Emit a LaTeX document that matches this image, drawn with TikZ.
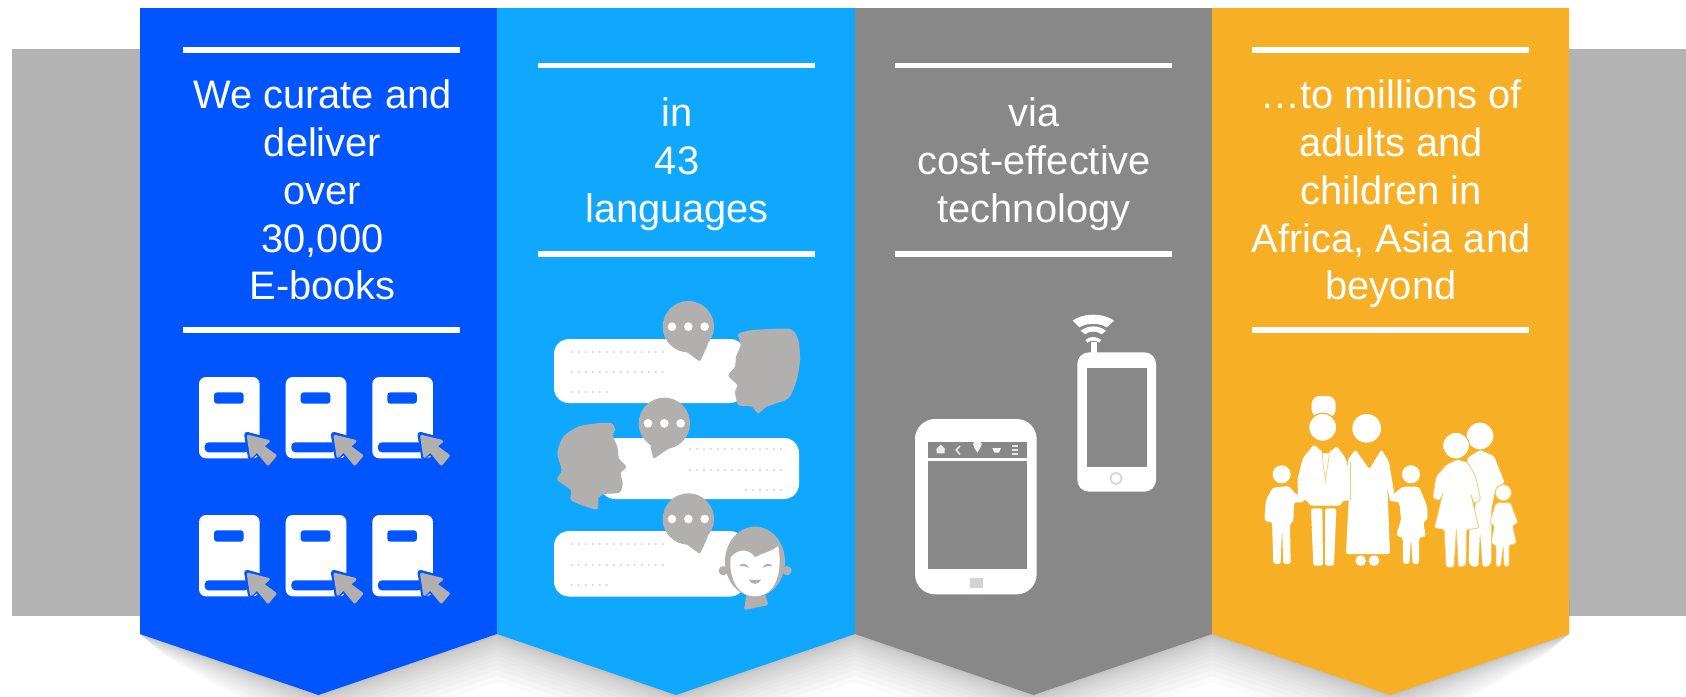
\documentclass[tikz,border=0pt]{standalone}
\usepackage{fontspec}
\setmainfont{Liberation Sans}
\definecolor{bluea}{HTML}{0055FF}
\definecolor{blueb}{HTML}{10A8FF}
\definecolor{greya}{HTML}{888888}
\definecolor{orangea}{HTML}{F7B026}
\definecolor{bgback}{HTML}{B3B3B3}
\definecolor{icongrey}{HTML}{B2B0AE}
\definecolor{dotgrey}{HTML}{D6D2D2}
\tikzset{
  zoomat/.style 2 args={shift={(#1,#2)},scale=0.33333},
  rc/.style={rounded corners=1pt},
  bodyfig/.style={fill=white,rounded corners=1.2pt},
  halo/.style={draw=orangea!70!white,line width=.4pt,fill=white,rounded corners=1.2pt},
  rulebar/.style={draw=white,line width=2.7pt},
  headline/.style={text=white,align=center,inner sep=0pt,font=\fontsize{19.9}{23.9}\selectfont},
  bookicon/.pic={
    \fill[white,rounded corners=3.5pt] (0,0) rectangle (182,244);
    \fill[bluea,rounded corners=1.5pt] (45,46) rectangle (134,80);
    \fill[bluea,rounded corners=2pt] (17,196) rectangle (150,226);
    \filldraw[bluea,line width=2.8pt,line join=round] (144,173) -- (210,191) -- (192,208) -- (230,236) -- (207,263) -- (174,223) -- (155,240) -- cycle;
    \filldraw[icongrey,line width=1.5pt,line join=round] (148,178) -- (208,193) -- (190,208) -- (228,236) -- (207,261) -- (174,221) -- (157,238) -- cycle;
  },
  bubble/.pic={
    \fill[icongrey] (0,0) circle (77);
    \fill[white] (-49,0) circle (13) (0,0) circle (13) (49,0) circle (13);
  }
}
\begin{document}
\begin{tikzpicture}[x=0.5pt,y=-0.5pt]
\useasboundingbox (0,0) rectangle (1686,696);
% grey band
\fill[bgback] (12,49) rectangle (1686,616);
% banner shadow
\foreach \d in {1,2,3,5,7,9,12,15,18,22,26,31,36,42,48}{
  \fill[black!70,opacity=.026] (140,600) -- (140,634) -- (140+.6*\d,634+.5*\d) -- (318.5,695+\d) -- (497,634+\d) -- (676,695+\d) -- (855,634+\d) -- (1033.5,695+\d) -- (1212,634+\d) -- (1390.5,695+\d) -- (1569-.6*\d,634+.5*\d) -- (1569,634) -- (1569,600) -- cycle;
}
% banners
\fill[bluea] (140,8) -- (497,8) -- (497,634) -- (318.5,695) -- (140,634) -- cycle;
\fill[blueb] (497,8) -- (855,8) -- (855,634) -- (676,695) -- (497,634) -- cycle;
\fill[greya] (855,8) -- (1212,8) -- (1212,634) -- (1033.5,695) -- (855,634) -- cycle;
\fill[orangea] (1212,8) -- (1569,8) -- (1569,634) -- (1390.5,695) -- (1212,634) -- cycle;
% rules
\draw[rulebar] (183,50) -- (460,50) (183,330) -- (460,330);
\draw[rulebar] (538,65.6) -- (815,65.6) (538,254) -- (815,254);
\draw[rulebar] (895,65.6) -- (1172,65.6) (895,254) -- (1172,254);
\draw[rulebar] (1252,50) -- (1529,50) (1252,330) -- (1529,330);
% text
\node[headline] (t1) at (322.5,190) {We curate and\\deliver\\over\\30,000\\E-books};
\node[headline] (t2) at (677,164) {in\\43\\languages};
\node[headline] (t3) at (1034,164) {via\\cost-effective\\technology};
\node[headline] (t4) at (1391,194) {…to millions of\\adults and\\children in\\Africa, Asia and\\beyond};
% books
\foreach \by in {377,515}{
  \foreach \bx in {199,285.7,372.3}{
    \pic[scale=0.33333] at (\bx,\by) {bookicon};
  }
}
% chat bars
\fill[white,rounded corners=7.5pt] (554,339) rectangle (745,403);
\fill[white,rounded corners=7.5pt] (600,438) rectangle (799,499);
\fill[white,rounded corners=7.5pt] (554,531) rectangle (745,596.5);
% dotted text
\foreach \yy in {352,372,544,565}{\foreach \i in {0,...,13}{\fill[dotgrey] (571.7+7*\i,\yy) circle (1.2);}}
\foreach \yy in {392,585}{\foreach \i in {0,...,5}{\fill[dotgrey] (571.7+7*\i,\yy) circle (1.2);}}
\foreach \yy in {449,470}{\foreach \i in {0,...,13}{\fill[dotgrey] (690+7*\i,\yy) circle (1.2);}}
\foreach \i in {0,...,5}{\fill[dotgrey] (746+7*\i,490) circle (1.2);}
% bubbles and left head, zoom frame 500,270
\begin{scope}[zoomat={500}{270}]
  \fill[icongrey,rc] (545,235) -- (600,275) -- (625,220) -- cycle;
  \pic[scale=0.33333] at (565,170) {bubble};
  \fill[icongrey,rc] (450,525) -- (460,567) -- (515,530) -- cycle;
  \pic[scale=0.33333] at (493,460) {bubble};
  \fill[icongrey,rc] (545,812) -- (600,852) -- (625,797) -- cycle;
  \pic[scale=0.33333] at (565,747) {bubble};
  \fill[icongrey] plot[smooth cycle,tension=.45] coordinates {(335,460) (345,480) (338,498) (352,530) (357,565) (378,590) (362,610) (368,640) (358,668) (312,672) (295,685) (290,718) (215,692) (212,660) (172,630) (185,600) (172,550) (190,500) (235,470) (290,460)};
\end{scope}
% right head
\begin{scope}[zoomat={700}{310}]
  \fill[icongrey] plot[smooth cycle,tension=.4] coordinates {(115,72) (160,60) (270,57) (295,90) (300,150) (290,210) (265,265) (200,290) (175,310) (155,290) (115,285) (105,245) (112,225) (85,197) (105,170) (108,140) (122,105)};
\end{scope}
% robot head
\begin{scope}[zoomat={640}{500}]
  \fill[icongrey] (250,212) circle (14) (441,212) circle (14);
  \fill[icongrey,rc] (320,280) -- (312,330) -- (385,315) -- (375,280) -- cycle;
  \fill[icongrey] (345,185) ellipse (90 and 105);
  \fill[white] (272,172) .. controls (300,140) and (330,150) .. (345,172) .. controls (365,160) and (395,155) .. (414,138) .. controls (426,190) and (420,288) .. (345,289) .. controls (284,288) and (266,220) .. (272,172) -- cycle;
  \fill[icongrey] (297,198) .. controls (305,188) and (320,188) .. (328,204) .. controls (318,198) and (305,198) .. (297,198) -- cycle;
  \fill[icongrey] (367,204) .. controls (375,188) and (390,188) .. (398,198) .. controls (390,198) and (377,198) .. (367,204) -- cycle;
  \fill[icongrey] (327,238) .. controls (340,241) and (350,241) .. (363,238) .. controls (358,256) and (332,256) .. (327,238) -- cycle;
\end{scope}
% small phone
\begin{scope}[zoomat={1050}{300}]
  \fill[white,rounded corners=5.8pt] (82,157) rectangle (318,575);
  \fill[greya] (110,203) rectangle (292,502);
  \draw[dotgrey,line width=.8pt] (198,535) circle (17);
  \fill[white] (122,125) rectangle (140,160);
  \fill[white] (68,62) .. controls (100,38) and (160,38) .. (192,62) -- (170,82) .. controls (150,68) and (110,68) .. (88,82) -- cycle;
  \fill[white] (92,92) .. controls (115,75) and (145,75) .. (168,92) -- (155,103) .. controls (142,92) and (118,92) .. (105,103) -- cycle;
  \fill[white] (106,120) .. controls (120,108) and (140,108) .. (154,120) -- (148,128) .. controls (136,120) and (124,120) .. (112,128) -- cycle;
\end{scope}
% large phone
\begin{scope}[zoomat={900}{410}]
  \fill[white,rounded corners=10pt] (45,27) rectangle (410,553);
  \fill[greya] (85,95) rectangle (382,143);
  \fill[greya] (85,152) rectangle (382,478);
  \fill[dotgrey] (210,503) rectangle (248,535);
  \fill[white,opacity=.85] (110,130) rectangle (134,117) (122,104) -- (136,118) -- (108,118) -- cycle;
  \draw[white,opacity=.85,line width=.7pt] (180,108) -- (168,120) -- (180,133);
  \fill[white,opacity=.9] (232,103) circle (13) (222,112) -- (242,112) -- (232,128) -- cycle;
  \fill[white,opacity=.9] (277,114) -- (303,114) -- (297,128) -- (283,128) -- cycle;
  \draw[white,opacity=.8,line width=.6pt] (335,108) -- (355,108) (335,120) -- (355,120) (335,132) -- (355,132);
\end{scope}
% family one
\begin{scope}[zoomat={1250}{390}]
  % man
  \fill[white,rounded corners=4pt] (185,18) rectangle (257,82);
  \fill[orangea] (218,112) circle (44);
  \fill[white] (218,112) circle (40);
  \fill[white] (350,115) circle (43);
  \fill[bodyfig] (192,163) -- (213,183) -- (245,183) -- (260,168) -- (287,205) -- (302,265) -- (300,332) -- (278,332) -- (272,347) -- (180,347) -- (172,332) -- (145,327) -- (142,270) -- (158,205) -- cycle;
  \fill[bodyfig] (183,355) -- (217,355) -- (219,527) -- (190,527) -- cycle;
  \fill[bodyfig] (225,355) -- (259,355) -- (252,527) -- (225,527) -- cycle;
  \draw[orangea!65!white,line width=.35pt] (216,190) -- (226,272) -- (238,195);
  \fill[orangea] (212,165) -- (216,190) -- (238,190) -- (244,165) -- cycle;
  % woman
  \fill[bodyfig] (316,178) -- (358,238) -- (394,178) -- (417,215) -- (434,320) -- (420,332) -- (412,290) -- (420,492) -- (288,492) -- (296,330) -- (293,210) -- cycle;
  \fill[white] (332,512) circle (16) (372,512) circle (16);
  \draw[orangea!70!white,line width=.4pt] (300,215) -- (300,330);
  % left child
  \fill[white] (95,253) circle (27);
  \fill[bodyfig] (68,293) -- (117,288) -- (137,313) -- (165,318) -- (160,337) -- (132,337) -- (130,395) -- (120,400) -- (122,522) -- (100,522) -- (96,410) -- (92,522) -- (70,522) -- (66,395) -- (53,397) -- (43,390) -- (48,330) -- cycle;
  % right child
  \fill[white] (483,253) circle (27);
  \fill[bodyfig] (458,290) -- (507,290) -- (532,350) -- (532,390) -- (520,395) -- (527,440) -- (507,442) -- (507,522) -- (488,522) -- (483,445) -- (478,522) -- (460,522) -- (458,442) -- (438,437) -- (453,390) -- (448,337) -- (415,332) -- (430,313) -- cycle;
\end{scope}
% family two
\begin{scope}[zoomat={1380}{410}]
  \fill[white] (300,78) circle (40);
  \fill[bodyfig] (260,145) -- (300,120) -- (342,138) -- (374,218) -- (347,232) -- (334,300) -- (334,458) -- (324,470) -- (308,470) -- (300,365) -- (295,470) -- (276,470) -- (266,458) -- (268,360) -- (288,280) -- cycle;
  \filldraw[draw=orangea,fill=white,line width=.5pt] (228,107) circle (40);
  \filldraw[halo] (198,165) -- (232,148) -- (264,158) -- (287,200) -- (302,270) -- (282,282) -- (272,250) -- (297,355) -- (260,358) -- (258,467) -- (235,472) -- (229,360) -- (222,472) -- (198,472) -- (193,358) -- (163,355) -- (188,250) -- (180,272) -- (158,265) -- (168,200) -- cycle;
  \filldraw[draw=orangea!70!white,fill=white,line width=.4pt] (370,248) circle (24);
  \filldraw[halo] (348,278) -- (392,278) -- (414,340) -- (397,345) -- (410,400) -- (387,405) -- (387,470) -- (372,470) -- (370,410) -- (362,470) -- (348,470) -- (348,405) -- (333,402) -- (343,345) -- (328,340) -- cycle;
\end{scope}
\end{tikzpicture}
\end{document}
